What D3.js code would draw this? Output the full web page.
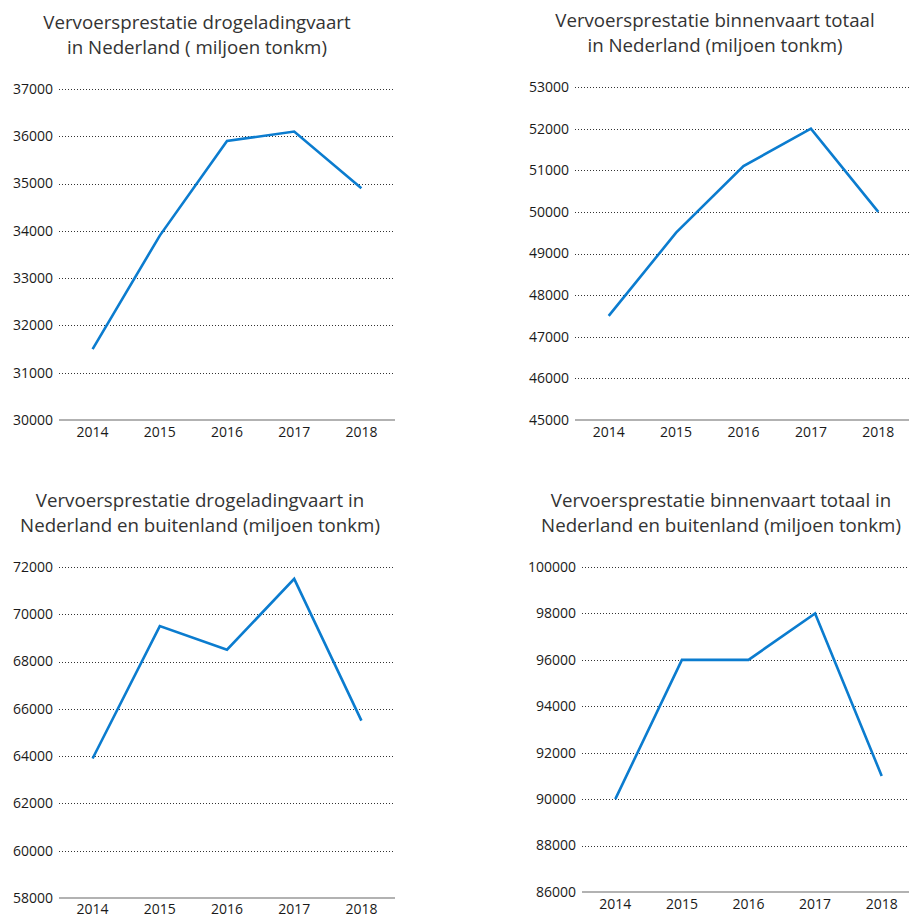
<!DOCTYPE html>
<html>
<head>
<meta charset="utf-8">
<script src="https://cdn.jsdelivr.net/npm/d3@7"></script>
<style>
  html, body { margin: 0; padding: 0; background: #fff; }
  svg { display: block; }
  text { font-family: "Open Sans", "Noto Sans", sans-serif; }
</style>
</head>
<body>
<svg id="chart" width="909" height="914"></svg>
<script>
// ---- Data ----
const years = ["2014", "2015", "2016", "2017", "2018"];

const droogNL = [31500, 33900, 35900, 36100, 34900];
const binnenNL = [47500, 49500, 51100, 52000, 50000];
const droogNLBuiten = [63900, 69500, 68500, 71500, 65500];
const binnenNLBuiten = [90000, 96000, 96000, 98000, 91000];

const ticksDroogNL = [30000, 31000, 32000, 33000, 34000, 35000, 36000, 37000];
const ticksBinnenNL = [45000, 46000, 47000, 48000, 49000, 50000, 51000, 52000, 53000];
const ticksDroogNLBuiten = [58000, 60000, 62000, 64000, 66000, 68000, 70000, 72000];
const ticksBinnenNLBuiten = [86000, 88000, 90000, 92000, 94000, 96000, 98000, 100000];

const titleDroogNL = ["Vervoersprestatie drogeladingvaart", "in Nederland ( miljoen tonkm)"];
const titleBinnenNL = ["Vervoersprestatie binnenvaart totaal", "in Nederland (miljoen tonkm)"];
const titleDroogNLBuiten = ["Vervoersprestatie drogeladingvaart in", "Nederland en buitenland (miljoen tonkm)"];
const titleBinnenNLBuiten = ["Vervoersprestatie binnenvaart totaal in", "Nederland en buitenland (miljoen tonkm)"];

// ---- Layout ----
const panels = [
  { values: droogNL, ticks: ticksDroogNL, title: titleDroogNL,
    x0: 59, x1: 395, yBottom: 420, yTop: 89, titleX: 197, titleY: 29, yearY: 437 },
  { values: binnenNL, ticks: ticksBinnenNL, title: titleBinnenNL,
    x0: 575, x1: 912, yBottom: 420, yTop: 87, titleX: 715, titleY: 27, yearY: 437 },
  { values: droogNLBuiten, ticks: ticksDroogNLBuiten, title: titleDroogNLBuiten,
    x0: 59, x1: 395, yBottom: 898, yTop: 567, titleX: 200, titleY: 507, yearY: 914 },
  { values: binnenNLBuiten, ticks: ticksBinnenNLBuiten, title: titleBinnenNLBuiten,
    x0: 582, x1: 915, yBottom: 892, yTop: 567, titleX: 721, titleY: 507, yearY: 909 }
];

const svg = d3.select("#chart");
const lineColor = "#0b7ccf";

panels.forEach(p => {
  const g = svg.append("g");
  const x = d3.scaleBand().domain(years).range([p.x0, p.x1]);
  const y = d3.scaleLinear().domain(d3.extent(p.ticks)).range([p.yBottom, p.yTop]);

  // Title
  const t = g.append("text")
    .attr("x", p.titleX).attr("y", p.titleY)
    .attr("text-anchor", "middle")
    .attr("fill", "#333")
    .style("font-size", "18.7px");
  p.title.forEach((line, i) => {
    t.append("tspan").attr("x", p.titleX).attr("dy", i === 0 ? 0 : 25).text(line);
  });

  // Gridlines (dotted), excluding baseline
  const minT = d3.min(p.ticks);
  g.selectAll("line.grid")
    .data(p.ticks.filter(v => v !== minT))
    .join("line")
    .attr("class", "grid")
    .attr("x1", p.x0).attr("x2", p.x1)
    .attr("y1", d => Math.round(y(d)) + 0.5).attr("y2", d => Math.round(y(d)) + 0.5)
    .attr("stroke", "#333")
    .attr("stroke-width", 1)
    .attr("stroke-dasharray", "1,2");

  // Baseline
  g.append("line")
    .attr("x1", p.x0).attr("x2", p.x1)
    .attr("y1", y(minT)).attr("y2", y(minT))
    .attr("stroke", "#999")
    .attr("stroke-width", 1.5);

  // Y tick labels
  g.selectAll("text.ytick")
    .data(p.ticks)
    .join("text")
    .attr("class", "ytick")
    .attr("x", p.x0 - 6)
    .attr("y", d => y(d))
    .attr("dy", "0.35em")
    .attr("text-anchor", "end")
    .attr("fill", "#1a1a1a")
    .style("font-size", "14px")
    .text(d => d);

  // X labels
  g.selectAll("text.xtick")
    .data(years)
    .join("text")
    .attr("class", "xtick")
    .attr("x", d => x(d) + x.bandwidth() / 2)
    .attr("y", p.yearY)
    .attr("text-anchor", "middle")
    .attr("fill", "#1a1a1a")
    .style("font-size", "14px")
    .text(d => d);

  // Line
  const line = d3.line()
    .x((d, i) => x(years[i]) + x.bandwidth() / 2)
    .y(d => y(d));
  g.append("path")
    .datum(p.values)
    .attr("d", line)
    .attr("fill", "none")
    .attr("stroke", lineColor)
    .attr("stroke-width", 2.6)
    .attr("stroke-linejoin", "miter");
});
</script>
</body>
</html>
